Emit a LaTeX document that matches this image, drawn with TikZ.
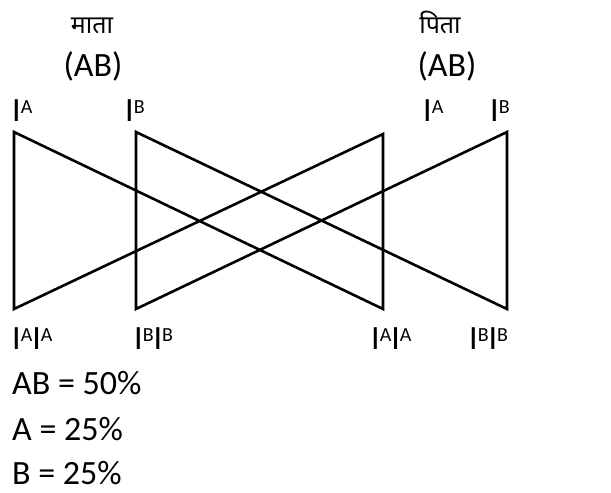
\documentclass[tikz,border=0pt]{standalone}
\usepackage{fontspec}
\setmainfont{Carlito}
\newfontfamily\devfont[Script=Devanagari]{Noto Sans}
\newcommand{\allele}[1]{I\raisebox{8pt}{\fontsize{20}{20}\selectfont #1}}
\begin{document}
\begin{tikzpicture}[x=1pt,y=-1pt,
  cross/.style={line width=2.6pt, line join=miter},
  lbl/.style={inner sep=0pt, anchor=base west, text depth=0pt, font=\fontsize{34}{34}\selectfont},
  parent/.style={inner sep=0pt, anchor=base, font=\fontsize{34}{34}\selectfont},
  hindi/.style={inner sep=0pt, anchor=base, font=\devfont\fontsize{25}{25}\selectfont}]
\useasboundingbox (0,0) rectangle (611,493);

% parents
\node[hindi]  (mother) at (92,33) {माता};
\node[parent] (mblood) at (93,76) {(AB)};
\node[hindi]  (father) at (440,33) {पिता};
\node[parent] (fblood) at (447,76) {(AB)};

% gametes
\node[lbl] (gA1) at (12,121) {\allele{A}};
\node[lbl] (gB1) at (125,121) {\allele{B}};
\node[lbl] (gA2) at (423,121) {\allele{A}};
\node[lbl] (gB2) at (490,121) {\allele{B}};

% corner points of the crossing lines
\coordinate (a1) at (14,132);
\coordinate (b1) at (136,132);
\coordinate (a2) at (383,134);
\coordinate (b2) at (507,132);
\coordinate (c1) at (14,309);
\coordinate (d1) at (136,309);
\coordinate (c2) at (383,309);
\coordinate (d2) at (507,309);

\draw[cross] (a1) -- (c1) -- (a2) -- (c2) -- cycle;
\draw[cross] (b1) -- (d1) -- (b2) -- (d2) -- cycle;

% offspring
\node[lbl] (o1) at (12,349) {\allele{A}\allele{A}};
\node[lbl] (o2) at (134,349) {\allele{B}\allele{B}};
\node[lbl] (o3) at (371,349) {\allele{A}\allele{A}};
\node[lbl] (o4) at (469,349) {\allele{B}\allele{B}};

% ratios
\node[lbl] (r1) at (12,394) {AB = 50\%};
\node[lbl] (r2) at (12,440) {A = 25\%};
\node[lbl] (r3) at (12,484) {B = 25\%};
\end{tikzpicture}
\end{document}
